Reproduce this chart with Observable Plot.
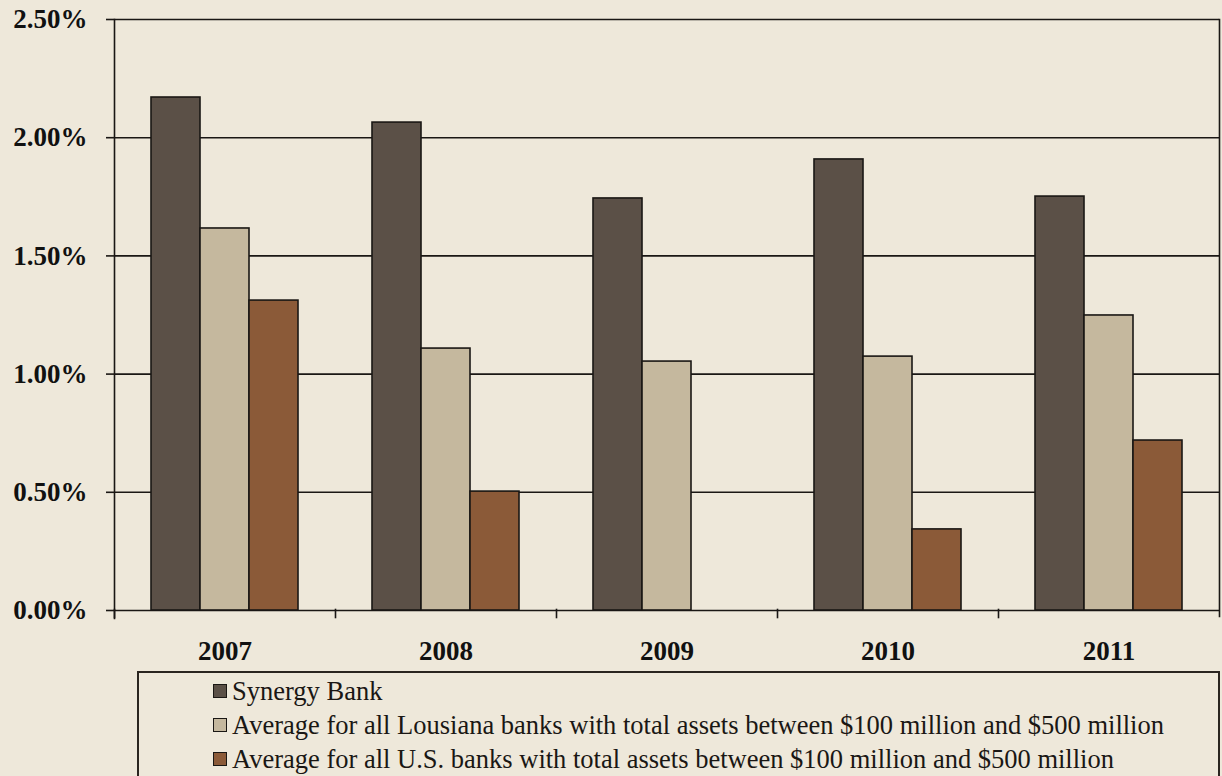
<!DOCTYPE html>
<html>
<head>
<meta charset="utf-8">
<script src="https://cdn.jsdelivr.net/npm/d3@7"></script>
<script src="https://cdn.jsdelivr.net/npm/@observablehq/plot@0.6"></script>
<style>
  html, body { margin: 0; padding: 0; background: #eee8da; width: 1222px; height: 776px; overflow: hidden; }
  #chart svg { display: block; background: transparent; }
  #chart svg text { font-family: "Liberation Serif", Tinos, "Times New Roman", Times, serif; font-size: 27px; font-weight: bold; fill: #111; }
  #legend {
    position: absolute; left: 137px; top: 671px; width: 1083px; height: 120px;
    border: 2px solid #2a2520; box-sizing: border-box;
    font-family: "Liberation Serif", Tinos, "Times New Roman", Times, serif; font-size: 26.5px; color: #1a1714;
  }
  .item { position: absolute; left: 74px; display: flex; align-items: center; white-space: nowrap; line-height: 30px; }
  .sw { width: 12px; height: 12px; border: 1.5px solid #1a1714; margin-right: 5px; }
</style>
</head>
<body>
<div id="chart"></div>
<div id="legend"></div>
<script>
const years = ["2007", "2008", "2009", "2010", "2011"];
const seriesNames = [
  "Synergy Bank",
  "Average for all Lousiana banks with total assets between $100 million and $500 million",
  "Average for all U.S. banks with total assets between $100 million and $500 million"
];
const seriesColors = ["#5b5047", "#c5b89e", "#8b5a38"];
const synergy   = [2.17, 2.064, 1.743, 1.908, 1.751];
const louisiana = [1.616, 1.108, 1.053, 1.074, 1.248];
const usBanks   = [1.311, 0.503, null, 0.343, 0.719];
const yTicks = [0, 0.5, 1.0, 1.5, 2.0, 2.5];

const seriesValues = [synergy, louisiana, usBanks];
const data = [];
years.forEach((y, i) => {
  seriesNames.forEach((s, j) => {
    const v = seriesValues[j][i];
    if (v != null) data.push({year: y, series: s, value: v});
  });
});

const plot = Plot.plot({
  width: 1222,
  height: 668,
  marginTop: 19,
  marginBottom: 58,
  marginLeft: 113,
  marginRight: 2,
  style: {background: "transparent", color: "#111"},
  fx: {domain: years, padding: 0, label: null},
  x: {domain: seriesNames, paddingInner: 0, paddingOuter: 0.74, axis: null},
  y: {domain: [0, 2.5], ticks: yTicks, label: null},
  color: {domain: seriesNames, range: seriesColors},
  marks: [
    Plot.ruleY(yTicks, {stroke: "#1a1714", strokeWidth: 1.6}),
    Plot.frame({anchor: "left", facetAnchor: "left", stroke: "#1a1714", strokeWidth: 1.6, insetBottom: -8}),
    Plot.frame({anchor: "right", facetAnchor: "right", stroke: "#1a1714", strokeWidth: 1.6, insetBottom: -6}),
    Plot.frame({anchor: "left", stroke: "#1a1714", strokeWidth: 1.6, insetTop: 590, insetBottom: -7}),
    Plot.barY(data, {fx: "year", x: "series", y: "value", fill: "series", stroke: "#1a1714", strokeWidth: 1.6}),
    Plot.axisY({ticks: yTicks, tickFormat: d => d.toFixed(2) + "%", tickSize: 8, tickPadding: 19,
      stroke: "#1a1714", strokeWidth: 1.6, label: null}),
    Plot.axisFx({anchor: "bottom", tickSize: 0, tickPadding: 30, label: null})
  ]
});
document.getElementById("chart").appendChild(plot);

const legend = document.getElementById("legend");
seriesNames.forEach((s, j) => {
  const item = document.createElement("div");
  item.className = "item";
  item.style.top = (3 + j * 34) + "px";
  const sw = document.createElement("span");
  sw.className = "sw";
  sw.style.background = seriesColors[j];
  const t = document.createElement("span");
  t.textContent = s;
  item.appendChild(sw);
  item.appendChild(t);
  legend.appendChild(item);
});
</script>
</body>
</html>
